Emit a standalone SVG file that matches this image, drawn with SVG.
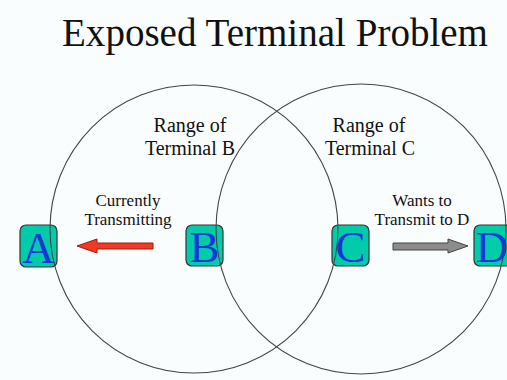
<svg xmlns="http://www.w3.org/2000/svg" width="507" height="380" viewBox="0 0 507 380">
  <style>
    .title { font-family: "Liberation Serif", "Times New Roman", serif; font-size: 39px; fill: #111; }
    .label { font-family: "Liberation Serif", "Times New Roman", serif; font-size: 20px; fill: #111; text-anchor: middle; }
    .note { font-family: "Liberation Serif", "Times New Roman", serif; font-size: 17px; fill: #111; text-anchor: middle; }
    .box { fill: #00CCAA; stroke: #333; stroke-width: 1.2; }
    .letter { font-family: "Liberation Serif", "Times New Roman", serif; font-size: 45px; fill: #1438D8; text-anchor: middle; }
    .range { fill: none; stroke: #444; stroke-width: 1.1; }
  </style>
  <rect width="507" height="380" fill="#FAFDFD"/>

  <text class="title" x="62" y="46" textLength="426" lengthAdjust="spacingAndGlyphs">Exposed Terminal Problem</text>

  <!-- terminals -->
  <g id="terminal-a">
    <rect class="box" x="20" y="225" width="37" height="42" rx="6"/>
    <text class="letter" x="38.5" y="263">A</text>
  </g>
  <g id="terminal-b">
    <rect class="box" x="186" y="225" width="37" height="41" rx="6"/>
    <text class="letter" x="204.5" y="262">B</text>
  </g>
  <g id="terminal-c">
    <rect class="box" x="332" y="225" width="37" height="41" rx="6"/>
    <text class="letter" x="350.5" y="262">C</text>
  </g>
  <g id="terminal-d">
    <rect class="box" x="474" y="225" width="38" height="41" rx="6"/>
    <text class="letter" x="492" y="262">D</text>
  </g>

  <!-- transmission ranges -->
  <g id="range-b">
    <circle class="range" cx="194" cy="229" r="144"/>
    <text class="label" x="190" y="132">Range of</text>
    <text class="label" x="190" y="155">Terminal B</text>
  </g>
  <g id="range-c">
    <circle class="range" cx="361" cy="229" r="145"/>
    <text class="label" x="369" y="132">Range of</text>
    <text class="label" x="370" y="155">Terminal C</text>
  </g>

  <!-- transmission arrows -->
  <g id="connectors">
    <path d="M153,243 L97,243 L97,239 L77,246 L97,253 L97,249 L153,249 Z" fill="#F03A22" stroke="#A01810" stroke-width="1"/>
    <text class="note" x="128" y="206">Currently</text>
    <text class="note" x="128" y="225">Transmitting</text>
    <path d="M393,243 L448,243 L448,239 L468,246 L448,253 L448,250 L393,250 Z" fill="#8C8C8C" stroke="#444" stroke-width="1"/>
    <text class="note" x="422" y="206">Wants to</text>
    <text class="note" x="422" y="225">Transmit to D</text>
  </g>
</svg>
